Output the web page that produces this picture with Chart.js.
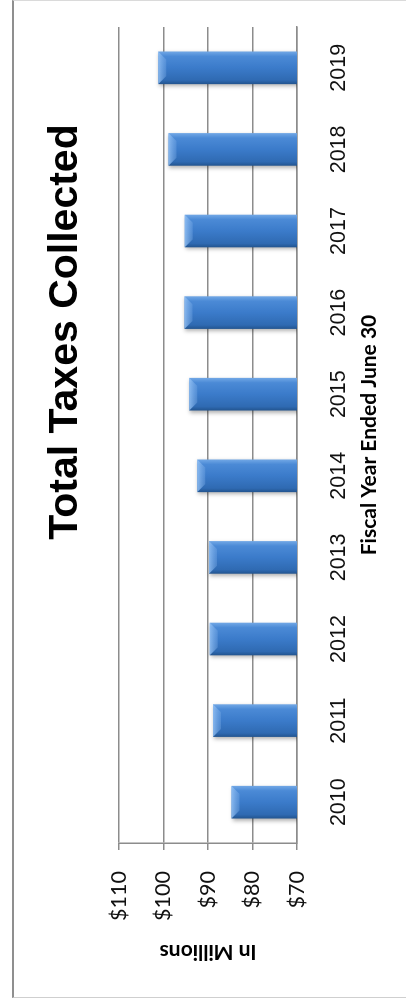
<!DOCTYPE html>
<html>
<head>
<meta charset="utf-8">
<title>Total Taxes Collected</title>
<script src="https://cdn.jsdelivr.net/npm/chart.js@4.4.1/dist/chart.umd.min.js"></script>
<style>
    html, body { margin: 0; padding: 0; background: #fff; overflow: hidden; }
    #frame {
        position: absolute; left: 12px; top: 0; width: 400px; height: 996px;
        border-left: 2px solid #8f8f8f; border-top: 1px solid #dadada; border-bottom: 1px solid #cfcfcf;
    }
    /* the chart is laid out landscape, then turned a quarter left */
    #wrap {
        position: absolute; left: 0; top: 0; width: 999px; height: 406px;
        transform-origin: 0 0; transform: translate(0, 999px) rotate(-90deg);
    }
</style>
</head>
<body>
<div id="frame"></div>
<div id="wrap"><canvas id="chart" width="999" height="406"></canvas></div>
<script>
const chartTitle = "Total Taxes Collected";
const years = ["2010", "2011", "2012", "2013", "2014", "2015", "2016", "2017", "2018", "2019"];
const taxes = [84.7, 88.9, 89.6, 89.8, 92.4, 94.2, 95.3, 95.2, 98.9, 101.2];
const valueMin = 70;
const valueMax = 110;
const valueStep = 10;
const xTitle = "Fiscal Year Ended June 30";
const yTitle = "In Millions";

const gridGrey = "#8c8c8c";

// shaded fill across each bar, darker on the left side
function barFill(context) {
    const chart = context.chart;
    const area = chart.chartArea;
    if (!area || context.type !== "data") return "#3b7acb";
    const x = chart.scales.x.getPixelForValue(context.dataIndex);
    const half = (area.right - area.left) / years.length * 0.4 / 2;
    const g = chart.ctx.createLinearGradient(x - half, 0, x + half, 0);
    g.addColorStop(0, "#22548f");
    g.addColorStop(0.12, "#2f6ab2");
    g.addColorStop(0.5, "#3b7bca");
    g.addColorStop(0.85, "#4b8ad6");
    g.addColorStop(1, "#72a8e6");
    return g;
}

const titlePlugin = {
    id: "sideTitle",
    afterDraw(chart) {
        const ctx = chart.ctx;
        ctx.save();
        ctx.font = 'bold 41px "Liberation Sans", Arial, sans-serif';
        ctx.fillStyle = "#000";
        ctx.textAlign = "center";
        ctx.textBaseline = "alphabetic";
        ctx.fillText(chartTitle, 667, 77);
        ctx.restore();
    }
};

const shadowPlugin = {
    id: "barShadow",
    beforeDatasetsDraw(chart) {
        const ctx = chart.ctx;
        ctx.save();
        ctx.shadowColor = "rgba(0,0,0,0.3)";
        ctx.shadowBlur = 4;
        ctx.shadowOffsetX = -2;
        ctx.shadowOffsetY = 1;
    },
    afterDatasetsDraw(chart) {
        chart.ctx.restore();
        // light bevel on the end of each bar
        const ctx = chart.ctx;
        const b = 8;
        ctx.save();
        chart.getDatasetMeta(0).data.forEach(bar => {
            const l = bar.x - bar.width / 2;
            const r = bar.x + bar.width / 2;
            const g = ctx.createLinearGradient(0, bar.y, 0, bar.y + b);
            g.addColorStop(0, "rgba(150,195,245,0.85)");
            g.addColorStop(1, "rgba(120,170,230,0.35)");
            ctx.fillStyle = g;
            ctx.beginPath();
            ctx.moveTo(l, bar.y);
            ctx.lineTo(r, bar.y);
            ctx.lineTo(r - b, bar.y + b);
            ctx.lineTo(l + b, bar.y + b);
            ctx.closePath();
            ctx.fill();
        });
        ctx.restore();
    }
};

const ctx = document.getElementById("chart").getContext("2d");

new Chart(ctx, {
    type: "bar",
    data: {
        labels: years,
        datasets: [{
            label: "Taxes",
            data: taxes,
            backgroundColor: barFill,
            borderWidth: 0,
            barPercentage: 0.4,
            categoryPercentage: 1.0
        }]
    },
    options: {
        responsive: false,
        animation: false,
        layout: {
            padding: { top: 119, right: 27, bottom: 0, left: 0 }
        },
        plugins: {
            legend: { display: false },
            tooltip: { enabled: false }
        },
        scales: {
            x: {
                grid: { display: false },
                border: { display: true, color: gridGrey, width: 1.5 },
                ticks: {
                    color: "#111",
                    padding: 21,
                    font: { family: '"Liberation Sans", Arial, sans-serif', size: 21.5 }
                },
                title: {
                    display: true,
                    text: xTitle,
                    color: "#000",
                    padding: { top: 0, bottom: 24 },
                    font: { family: "Lato, sans-serif", size: 21, weight: "bold" }
                },
                afterFit(scale) { scale.height = 109; }
            },
            y: {
                min: valueMin,
                max: valueMax,
                grid: { color: gridGrey, lineWidth: 1.5, tickLength: 7, drawTicks: true },
                border: { display: true, color: gridGrey, width: 1.5 },
                ticks: {
                    stepSize: valueStep,
                    color: "#111",
                    padding: 21,
                    font: { family: "Lato, sans-serif", size: 21.5 },
                    callback: v => "$" + v
                },
                title: {
                    display: true,
                    text: yTitle,
                    color: "#000",
                    padding: { top: 35, bottom: 0 },
                    font: { family: "Lato, sans-serif", size: 21, weight: "bold" }
                },
                afterFit(scale) { scale.width = 156; }
            }
        }
    },
    plugins: [shadowPlugin, titlePlugin]
});
</script>
</body>
</html>
